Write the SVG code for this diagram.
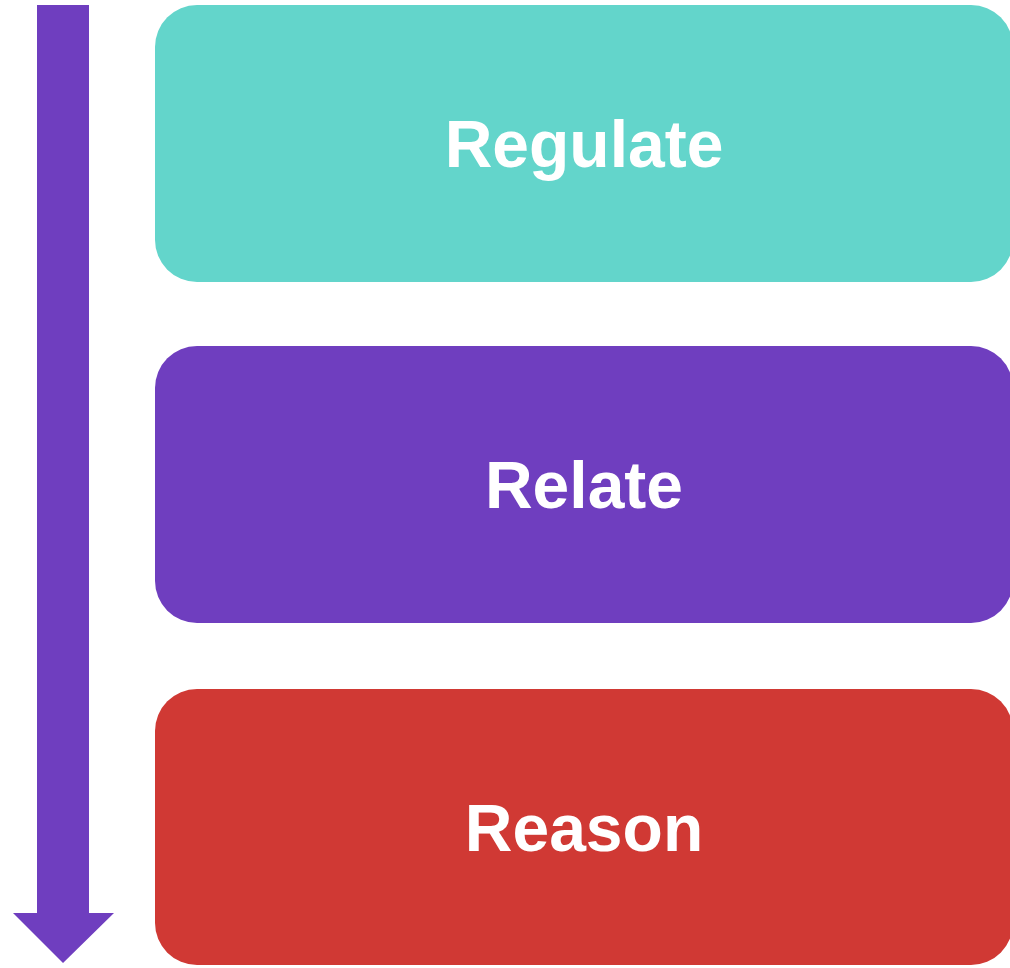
<svg xmlns="http://www.w3.org/2000/svg" width="1010" height="968" viewBox="0 0 1010 968">
<style>
.lbl{font-family:"Liberation Sans",Arial,sans-serif;font-weight:bold;font-size:66px;fill:#ffffff;text-anchor:middle}
</style>
<rect width="1010" height="968" fill="#ffffff"/>
<g id="connectors">
<path d="M37 5 H89 V913 H114 L63 963 L13 913 H37 Z" fill="#6F3EBF"/>
</g>
<g id="regulate">
<rect x="155" y="5" width="858" height="277" rx="42" fill="#63D5CB"/>
<text class="lbl" x="584" y="167">Regulate</text>
</g>
<g id="relate">
<rect x="155" y="346" width="858" height="277" rx="42" fill="#6F3EBF"/>
<text class="lbl" x="584" y="508">Relate</text>
</g>
<g id="reason">
<rect x="155" y="689" width="858" height="276" rx="42" fill="#D03934"/>
<text class="lbl" x="584" y="851">Reason</text>
</g>
</svg>
